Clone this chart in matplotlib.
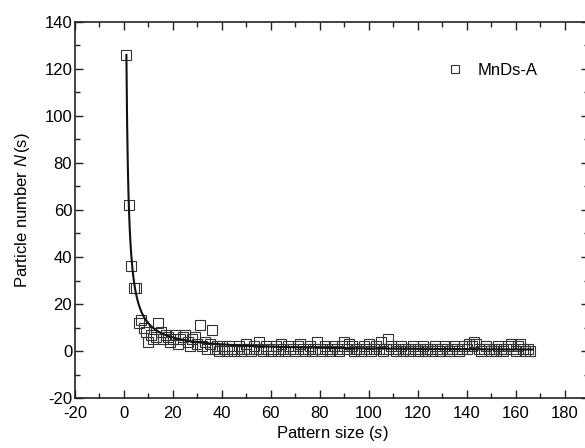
import numpy as np
import matplotlib
matplotlib.use("Agg")
import matplotlib.pyplot as plt
from matplotlib.ticker import MultipleLocator

plt.rcParams['font.family'] = ['Liberation Sans', 'DejaVu Sans']
plt.rcParams['mathtext.fontset'] = 'custom'
plt.rcParams['mathtext.it'] = 'Liberation Sans:style=italic'
plt.rcParams['mathtext.rm'] = 'Liberation Sans'
plt.rcParams['axes.unicode_minus'] = False

sizes = np.arange(1, 167)
counts = [126, 62, 36, 27, 27, 12, 13, 10, 8, 4,
          7, 5, 6, 12, 8, 5, 7, 6, 4, 5,
          7, 3, 5, 6, 7, 4, 2, 5, 6, 3,
          11, 2, 4, 1, 3, 9, 1, 2, 0, 2,
          1, 0, 2, 1, 0, 1, 2, 0, 1, 3,
          1, 0, 2, 1, 4, 1, 0, 2, 1, 0,
          1, 2, 0, 3, 1, 0, 2, 1, 1, 0,
          2, 3, 1, 0, 1, 2, 0, 1, 4, 1,
          0, 2, 1, 0, 1, 2, 1, 0, 2, 4,
          1, 3, 2, 0, 1, 1, 0, 2, 1, 3,
          0, 1, 2, 1, 4, 0, 1, 5, 2, 1,
          0, 1, 2, 0, 1, 1, 0, 2, 1, 0,
          1, 2, 0, 1, 1, 0, 2, 1, 0, 1,
          2, 1, 0, 1, 2, 1, 0, 1, 2, 1,
          3, 2, 4, 3, 1, 0, 1, 2, 1, 0,
          1, 0, 2, 1, 0, 1, 2, 3, 1, 0,
          2, 3, 1, 0, 1, 0]

# power-law fit parameters N(s) = A * s^(-tau)
fit_A = 126.0
fit_tau = 1.03

fig = plt.figure(figsize=(5.85, 4.48), dpi=100)
ax = fig.add_axes([75/585, 50/448, (589-75)/585, (398-22)/448])

s_fit = np.linspace(1, 167, 600)
ax.plot(s_fit, fit_A * s_fit**(-fit_tau), color='#111111', lw=1.5, zorder=3)
ax.plot(sizes, counts, linestyle='none', marker='s', markersize=7.5,
        markerfacecolor='none', markeredgecolor='#333333', markeredgewidth=0.8,
        label='MnDs-A', zorder=2)

ax.set_xlim(-20, 190)
ax.set_ylim(-20, 140)
ax.xaxis.set_major_locator(MultipleLocator(20))
ax.xaxis.set_minor_locator(MultipleLocator(10))
ax.yaxis.set_major_locator(MultipleLocator(20))
ax.yaxis.set_minor_locator(MultipleLocator(10))
ax.tick_params(which='both', direction='in', top=True, right=True,
               labelsize=12, width=1.0, color='#222222')
ax.tick_params(axis='y', pad=2)
ax.tick_params(axis='x', pad=6)
ax.tick_params(which='major', length=6)
ax.tick_params(which='minor', length=3.5)
for sp in ax.spines.values():
    sp.set_linewidth(1.2)
    sp.set_color('#222222')

ax.set_xlabel('Pattern size ($s$)', fontsize=12, labelpad=2)
ax.set_ylabel('Particle number $N\\,$(s)', fontsize=12, labelpad=9)

leg = ax.legend(loc='upper left', bbox_to_anchor=(0.69, 0.93), frameon=False,
                fontsize=12, markerscale=0.7, handletextpad=0.8, handlelength=1.2)

fig.savefig('out.png', dpi=100)
